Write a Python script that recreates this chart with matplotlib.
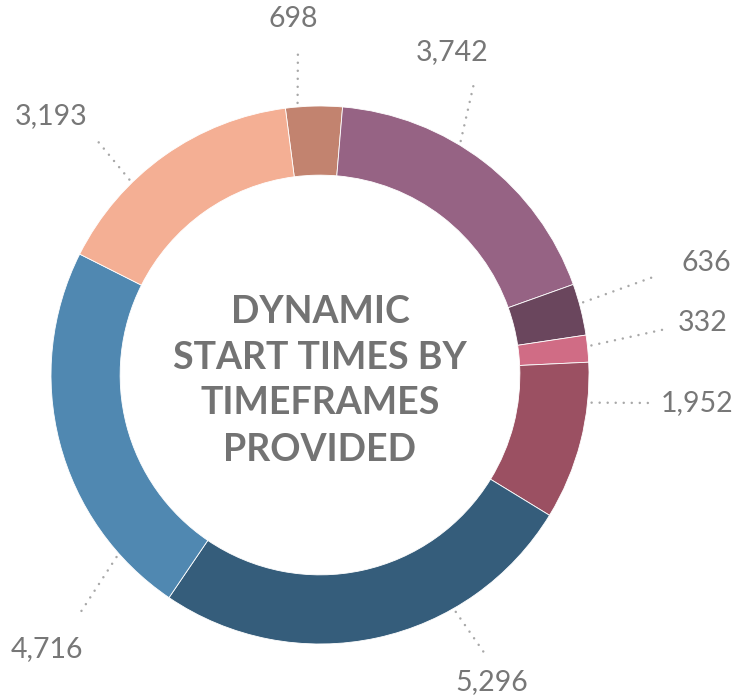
import numpy as np
import matplotlib.pyplot as plt

plt.rcParams['font.family'] = ['Lato', 'DejaVu Sans']

values = [698, 3742, 636, 332, 1952, 5296, 4716, 3193]
labels = ['698', '3,742', '636', '332', '1,952', '5,296', '4,716', '3,193']
colors = ['#C2836F', '#966384', '#6A465D', '#D06C85',
          '#9B5062', '#355D7B', '#5088B1', '#F4AF94']
title_lines = ['DYNAMIC', 'START TIMES BY', 'TIMEFRAMES', 'PROVIDED']

# where each leader leaves its wedge (fraction of the wedge, clockwise)
leader_frac = [0.22, 0.40, 0.38, 0.40, 0.25, 0.31, 0.17, 0.34]
# outer end of each leader and the label's centre, in pie units
leader_end = [(-0.082, 1.216), (0.576, 1.100), (1.238, 0.364), (1.286, 0.171),
              (1.238, -0.104), (0.621, -1.048), (-0.892, -0.885), (-0.836, 0.881)]
label_xy = [(-0.098, 1.323), (0.493, 1.199), (1.437, 0.416), (1.424, 0.193),
            (1.402, -0.104), (0.639, -1.143), (-1.015, -1.017), (-1.000, 0.963)]

fig = plt.figure(figsize=(7.36, 6.98), dpi=100)
ax = fig.add_axes([0, 0, 1, 1])

wedges, _ = ax.pie(values, colors=colors, startangle=97.4, counterclock=False,
                   radius=1.0,
                   wedgeprops=dict(width=0.257, edgecolor='white', linewidth=0.6))

for w, f, end, xy, lab in zip(wedges, leader_frac, leader_end, label_xy, labels):
    ang = np.deg2rad(w.theta2 - f * (w.theta2 - w.theta1))
    r0 = 1.015
    x0, y0 = r0 * np.cos(ang), r0 * np.sin(ang)
    ax.plot([x0, end[0]], [y0, end[1]], color='#A8A8A8', lw=1.8,
            linestyle=(0, (0.01, 3.2)), dash_capstyle='round')
    ax.text(xy[0], xy[1], lab, ha='center', va='center',
            fontsize=20.5, color='#777777')

ys = [0.235, 0.063, -0.104, -0.279]
for line, y in zip(title_lines, ys):
    ax.text(0, y, line, ha='center', va='center', fontsize=27,
            fontweight='bold', color='#737373')

ax.set_xlim(-320 / 269, 416 / 269)
ax.set_ylim(-323 / 269, 375 / 269)
ax.set_aspect('equal')
ax.axis('off')

fig.savefig('out.png', dpi=100)
